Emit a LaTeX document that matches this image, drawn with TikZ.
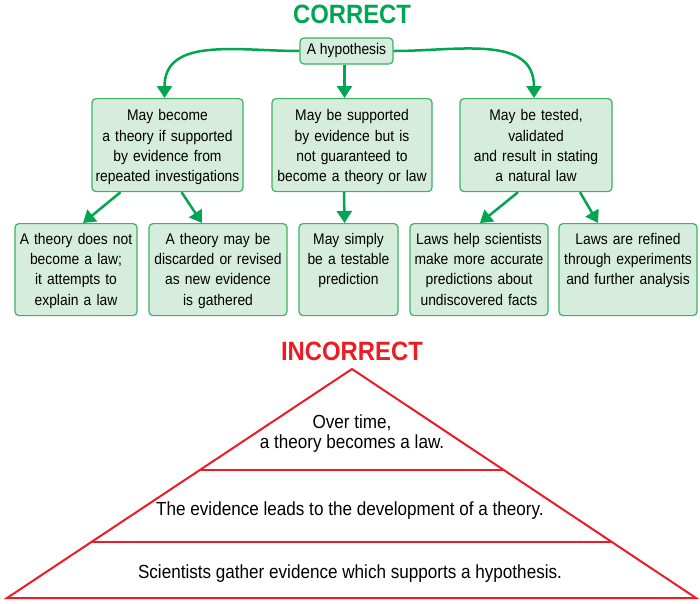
\documentclass[tikz,border=0pt]{standalone}
\usepackage{xcolor}
\usepackage{fontspec}
\setmainfont{Liberation Sans}[FakeStretch=0.9]
\usepackage{tikz}
\usetikzlibrary{calc,arrows.meta}
\definecolor{hgreen}{RGB}{0,166,81}
\definecolor{hborder}{RGB}{60,178,100}
\definecolor{hfill}{RGB}{214,236,220}
\definecolor{hred}{RGB}{237,28,36}
\tikzset{>=stealth,
  idea/.style={draw=hborder,fill=hfill,line width=1.2pt,rounded corners=4pt,align=center,inner xsep=0pt,inner ysep=0pt,font=\fontsize{15.4}{20.4}\selectfont},
  ideatop/.style={idea,anchor=north,text height=22pt,text depth=71pt},
  ideabot/.style={idea,anchor=north,text height=20.5pt,text depth=71.5pt},
  flow/.style={draw=hgreen,line width=2.5pt,-{Triangle[width=15pt,length=12pt]}},
  pyr/.style={draw=hred,line width=2pt,line join=miter},
  layer/.style={font=\fontsize{19}{20}\selectfont,align=center}
}

\begin{document}
\begin{tikzpicture}[x=1pt,y=-1pt]
   \useasboundingbox (0,0) rectangle (700,603);
      \node[hgreen,font=\bfseries\fontsize{26.5}{30}\selectfont] at (352, 14)   (correct) {CORRECT};
      \node[idea,minimum width=93pt,minimum height=26pt] at (346.5, 51)   (hyp) {A hypothesis};
      \node[ideatop,text width=151pt] at (167.5, 98)   (mayth) {May become\\a theory if supported\\by evidence from\\repeated investigations};
      \node[ideatop,text width=160pt] at (352, 98)   (maysup) {May be supported\\by evidence but is\\not guaranteed to\\become a theory or law};
      \node[ideatop,text width=152pt] at (536, 98)   (maytest) {May be tested,\\validated\\and result in stating\\a natural law};
      \node[ideabot,text width=122pt] at (76, 223)   (nolaw) {A theory does not\\become a law;\\it attempts to\\explain a law};
      \node[ideabot,text width=138pt] at (218, 223)   (revise) {A theory may be\\discarded or revised\\as new evidence\\is gathered};
      \node[ideabot,text width=99pt] at (348.5, 223)   (predict) {May simply\\be a testable\\prediction};
      \node[ideabot,text width=138pt] at (479, 223)   (lawhelp) {Laws help scientists\\make more accurate\\predictions about\\undiscovered facts};
      \node[ideabot,text width=138pt] at (628, 223)   (refine) {Laws are refined\\through experiments\\and further analysis};
     \draw[flow] (hyp.west) to[out=180,in=90,looseness=1.1] ([xshift=-3pt]mayth.north);
     \draw[flow] ([xshift=-2pt]hyp.south) -- ([xshift=-2pt]hyp.south |- maysup.north);
     \draw[flow] (hyp.east) to[out=0,in=90,looseness=1.1] ([xshift=-2pt]maytest.north);
     \draw[flow] ([xshift=-47pt]mayth.south) -- ([xshift=7pt]nolaw.north);
     \draw[flow] ([xshift=14pt]mayth.south) -- ([xshift=-16pt]revise.north);
     \draw[flow] ([xshift=-8pt]maysup.south) -- ([xshift=-4pt]predict.north);
     \draw[flow] ([xshift=-18pt]maytest.south) -- ([xshift=1pt]lawhelp.north);
     \draw[flow] ([xshift=44pt]maytest.south) -- ([xshift=-30pt]refine.north);
      \node[hred,font=\bfseries\fontsize{26.5}{30}\selectfont] at (352, 351)   (incorrect) {INCORRECT};
       \coordinate (apex) at (352, 369);
       \coordinate (bl) at (7, 598);
       \coordinate (br) at (696, 598);
     \draw[pyr] (apex)--(br)--(bl)--cycle;
     \draw[pyr] ($(apex)!0.441!(bl)$)--($(apex)!0.441!(br)$);
     \draw[pyr] ($(apex)!0.755!(bl)$)--($(apex)!0.755!(br)$);
      \node[layer] at (352, 434)   (law) {Over time,\\a theory becomes a law.};
      \node[layer] at (350, 511)   (theory) {The evidence leads to the development of a theory.};
      \node[layer] at (350, 574)   (gather) {Scientists gather evidence which supports a hypothesis.};
\end{tikzpicture}
\end{document}
